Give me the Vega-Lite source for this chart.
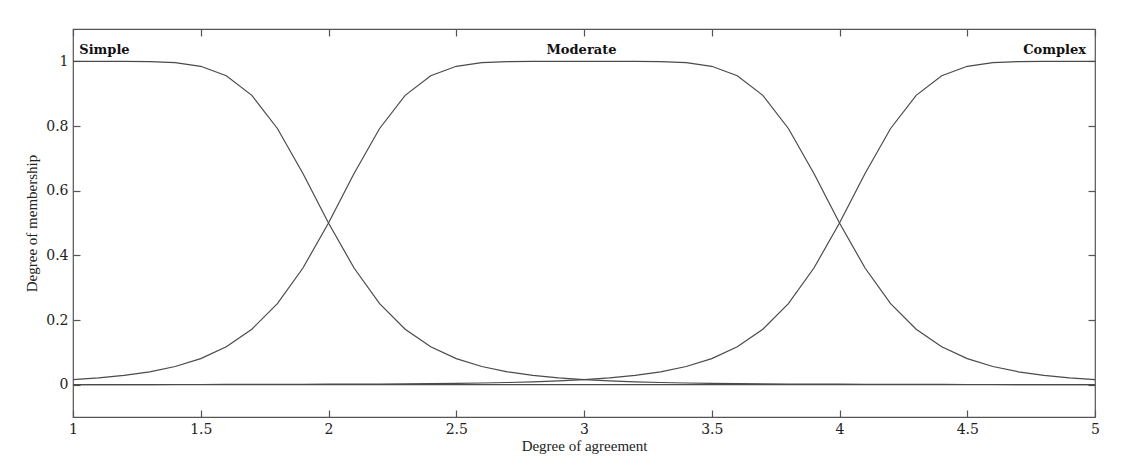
{
  "$schema": "https://vega.github.io/schema/vega-lite/v6.json",
  "autosize": "none",
  "width": 1022,
  "height": 388,
  "padding": {"left": 73, "top": 29, "right": 43, "bottom": 53},
  "background": "white",
  "config": {
    "view": {"stroke": "#555", "strokeWidth": 1.2},
    "axis": {
      "domain": false,
      "grid": false,
      "tickSize": -7,
      "tickColor": "#555",
      "tickWidth": 1.2,
      "labelFont": "DejaVu Serif",
      "labelFontSize": 14,
      "labelColor": "#222",
      "labelPadding": 12,
      "titleFont": "Liberation Serif",
      "titleFontSize": 15,
      "titleFontWeight": "normal",
      "titleColor": "#222"
    }
  },
  "datasets": {
    "mf": [
      {"x": 1.0, "Simple": 1, "Moderate": 0.01538, "Complex": 0.00024},
      {"x": 1.1, "Simple": 1.0, "Moderate": 0.02081, "Complex": 0.00028},
      {"x": 1.2, "Simple": 0.99994, "Moderate": 0.02856, "Complex": 0.00033},
      {"x": 1.3, "Simple": 0.99927, "Moderate": 0.03978, "Complex": 0.00039},
      {"x": 1.4, "Simple": 0.99592, "Moderate": 0.05625, "Complex": 0.00046},
      {"x": 1.5, "Simple": 0.98462, "Moderate": 0.08071, "Complex": 0.00054},
      {"x": 1.6, "Simple": 0.95542, "Moderate": 0.11724, "Complex": 0.00065},
      {"x": 1.7, "Simple": 0.89474, "Moderate": 0.17162, "Complex": 0.00077},
      {"x": 1.8, "Simple": 0.7923, "Moderate": 0.25088, "Complex": 0.00093},
      {"x": 1.9, "Simple": 0.65298, "Moderate": 0.36081, "Complex": 0.00113},
      {"x": 2.0, "Simple": 0.5, "Moderate": 0.5, "Complex": 0.00137},
      {"x": 2.1, "Simple": 0.36081, "Moderate": 0.65298, "Complex": 0.00168},
      {"x": 2.2, "Simple": 0.25088, "Moderate": 0.7923, "Complex": 0.00207},
      {"x": 2.3, "Simple": 0.17162, "Moderate": 0.89474, "Complex": 0.00257},
      {"x": 2.4, "Simple": 0.11724, "Moderate": 0.95542, "Complex": 0.00323},
      {"x": 2.5, "Simple": 0.08071, "Moderate": 0.98462, "Complex": 0.00408},
      {"x": 2.6, "Simple": 0.05625, "Moderate": 0.99592, "Complex": 0.00521},
      {"x": 2.7, "Simple": 0.03978, "Moderate": 0.99927, "Complex": 0.00671},
      {"x": 2.8, "Simple": 0.02856, "Moderate": 0.99994, "Complex": 0.00874},
      {"x": 2.9, "Simple": 0.02081, "Moderate": 1.0, "Complex": 0.01153},
      {"x": 3.0, "Simple": 0.01538, "Moderate": 1, "Complex": 0.01538},
      {"x": 3.1, "Simple": 0.01153, "Moderate": 1.0, "Complex": 0.02081},
      {"x": 3.2, "Simple": 0.00874, "Moderate": 0.99994, "Complex": 0.02856},
      {"x": 3.3, "Simple": 0.00671, "Moderate": 0.99927, "Complex": 0.03978},
      {"x": 3.4, "Simple": 0.00521, "Moderate": 0.99592, "Complex": 0.05625},
      {"x": 3.5, "Simple": 0.00408, "Moderate": 0.98462, "Complex": 0.08071},
      {"x": 3.6, "Simple": 0.00323, "Moderate": 0.95542, "Complex": 0.11724},
      {"x": 3.7, "Simple": 0.00257, "Moderate": 0.89474, "Complex": 0.17162},
      {"x": 3.8, "Simple": 0.00207, "Moderate": 0.7923, "Complex": 0.25088},
      {"x": 3.9, "Simple": 0.00168, "Moderate": 0.65298, "Complex": 0.36081},
      {"x": 4.0, "Simple": 0.00137, "Moderate": 0.5, "Complex": 0.5},
      {"x": 4.1, "Simple": 0.00113, "Moderate": 0.36081, "Complex": 0.65298},
      {"x": 4.2, "Simple": 0.00093, "Moderate": 0.25088, "Complex": 0.7923},
      {"x": 4.3, "Simple": 0.00077, "Moderate": 0.17162, "Complex": 0.89474},
      {"x": 4.4, "Simple": 0.00065, "Moderate": 0.11724, "Complex": 0.95542},
      {"x": 4.5, "Simple": 0.00054, "Moderate": 0.08071, "Complex": 0.98462},
      {"x": 4.6, "Simple": 0.00046, "Moderate": 0.05625, "Complex": 0.99592},
      {"x": 4.7, "Simple": 0.00039, "Moderate": 0.03978, "Complex": 0.99927},
      {"x": 4.8, "Simple": 0.00033, "Moderate": 0.02856, "Complex": 0.99994},
      {"x": 4.9, "Simple": 0.00028, "Moderate": 0.02081, "Complex": 1.0},
      {"x": 5.0, "Simple": 0.00024, "Moderate": 0.01538, "Complex": 1}
    ],
    "labels": [
      {"x": 1.123, "y": 1.022, "label": "Simple"},
      {"x": 2.99, "y": 1.022, "label": "Moderate"},
      {"x": 4.842, "y": 1.022, "label": "Complex"}
    ],
    "zero": [{"y": 0}]
  },
  "resolve": {"axis": {"x": "independent", "y": "independent"}},
  "layer": [
    {
      "data": {"name": "mf"},
      "transform": [{"fold": ["Simple", "Moderate", "Complex"], "as": ["set", "value"]}],
      "mark": {"type": "line", "color": "#4a4a4a", "strokeWidth": 1.2, "clip": true},
      "encoding": {
        "x": {
          "field": "x", "type": "quantitative",
          "scale": {"domain": [1, 5], "nice": false, "zero": false},
          "axis": {"orient": "bottom", "title": "Degree of agreement", "values": [1, 1.5, 2, 2.5, 3, 3.5, 4, 4.5, 5], "format": "~g", "titlePadding": 2, "labelFlush": false}
        },
        "y": {
          "field": "value", "type": "quantitative",
          "scale": {"domain": [-0.1, 1.1], "nice": false, "zero": false},
          "axis": {"orient": "left", "title": "Degree of membership", "values": [0, 0.2, 0.4, 0.6, 0.8, 1], "format": "~g", "titlePadding": 6, "labelFlush": false}
        },
        "detail": {"field": "set"}
      }
    },
    {
      "data": {"name": "zero"},
      "mark": {"type": "rule", "color": "#4a4a4a", "strokeWidth": 1.2},
      "encoding": {
        "y": {"field": "y", "type": "quantitative", "axis": null}
      }
    },
    {
      "data": {"name": "labels"},
      "mark": {"type": "text", "font": "DejaVu Serif", "fontWeight": "bold", "fontSize": 13, "color": "#111", "baseline": "alphabetic", "align": "center"},
      "encoding": {
        "x": {"field": "x", "type": "quantitative", "axis": {"orient": "top", "labels": false, "title": null, "values": [1, 1.5, 2, 2.5, 3, 3.5, 4, 4.5, 5]}},
        "y": {"field": "y", "type": "quantitative", "axis": {"orient": "right", "labels": false, "title": null, "values": [0, 0.2, 0.4, 0.6, 0.8, 1]}},
        "text": {"field": "label"}
      }
    }
  ]
}
